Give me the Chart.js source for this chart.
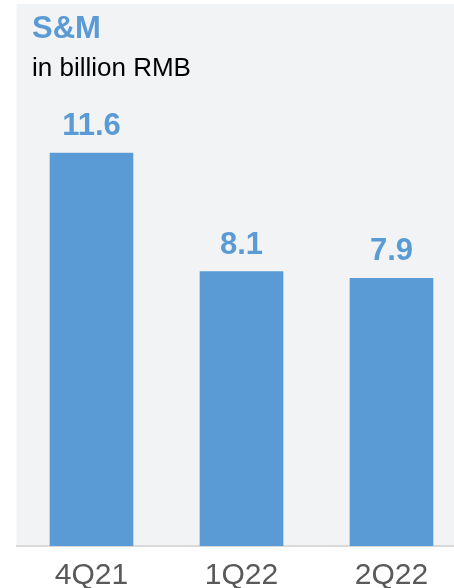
<!DOCTYPE html>
<html>
<head>
<meta charset="utf-8">
<script src="https://cdn.jsdelivr.net/npm/chart.js@4"></script>
<style>
  html,body{margin:0;padding:0;background:#fff;overflow:hidden}
  #wrap{position:relative;width:454px;height:588px;overflow:hidden}
  #c{position:absolute;left:0;top:0}
  .t{position:absolute;font-family:"Liberation Sans",Arial,sans-serif;white-space:nowrap;line-height:1}
  #title{left:32px;top:12px;font-size:31px;font-weight:bold;color:#5b9bd5}
  #unit{left:32px;top:54px;font-size:26px;color:#000}
</style>
</head>
<body>
<div id="wrap">
  <canvas id="c" width="470" height="606"></canvas>
  <div class="t" id="title">S&amp;M</div>
  <div class="t" id="unit">in billion RMB</div>
</div>
<script>
const quarters=['4Q21','1Q22','2Q22']
const smValues=[11.6,8.1,7.9]
const valueLabels=['11.6','8.1','7.9']

const blue='#5b9bd5'

// gray panel behind the plot
const panel={id:'panel',beforeDraw(chart){
  const {ctx,chartArea:a}=chart
  ctx.save();ctx.fillStyle='#f2f3f5'
  ctx.fillRect(a.left,4,chart.width-a.left,a.bottom-4)
  ctx.restore()
}}

// bold value above each bar
const valueTags={id:'valueTags',afterDatasetsDraw(chart){
  const {ctx}=chart
  const meta=chart.getDatasetMeta(0)
  ctx.save()
  ctx.font='bold 31px "Liberation Sans", Arial, sans-serif'
  ctx.fillStyle=blue;ctx.textAlign='center';ctx.textBaseline='alphabetic'
  meta.data.forEach((bar,i)=>{ctx.fillText(valueLabels[i],bar.x,bar.y-18)})
  ctx.restore()
}}

new Chart(document.getElementById('c'),{
  type:'bar',
  data:{labels:quarters,datasets:[{data:smValues,backgroundColor:blue,barThickness:83}]},
  options:{
    responsive:false,animation:false,
    layout:{padding:{left:16.5,right:3.5,top:4,bottom:0}},
    plugins:{legend:{display:false},tooltip:{enabled:false}},
    scales:{
      y:{display:false,min:0,max:16},
      x:{
        grid:{display:false,drawTicks:false},
        border:{color:'#d9d9d9',width:2},
        ticks:{color:'#595959',padding:15,font:{family:'"Liberation Sans", Arial, sans-serif',size:30,lineHeight:1}}
      }
    }
  },
  plugins:[panel,valueTags]
})
</script>
</body>
</html>
